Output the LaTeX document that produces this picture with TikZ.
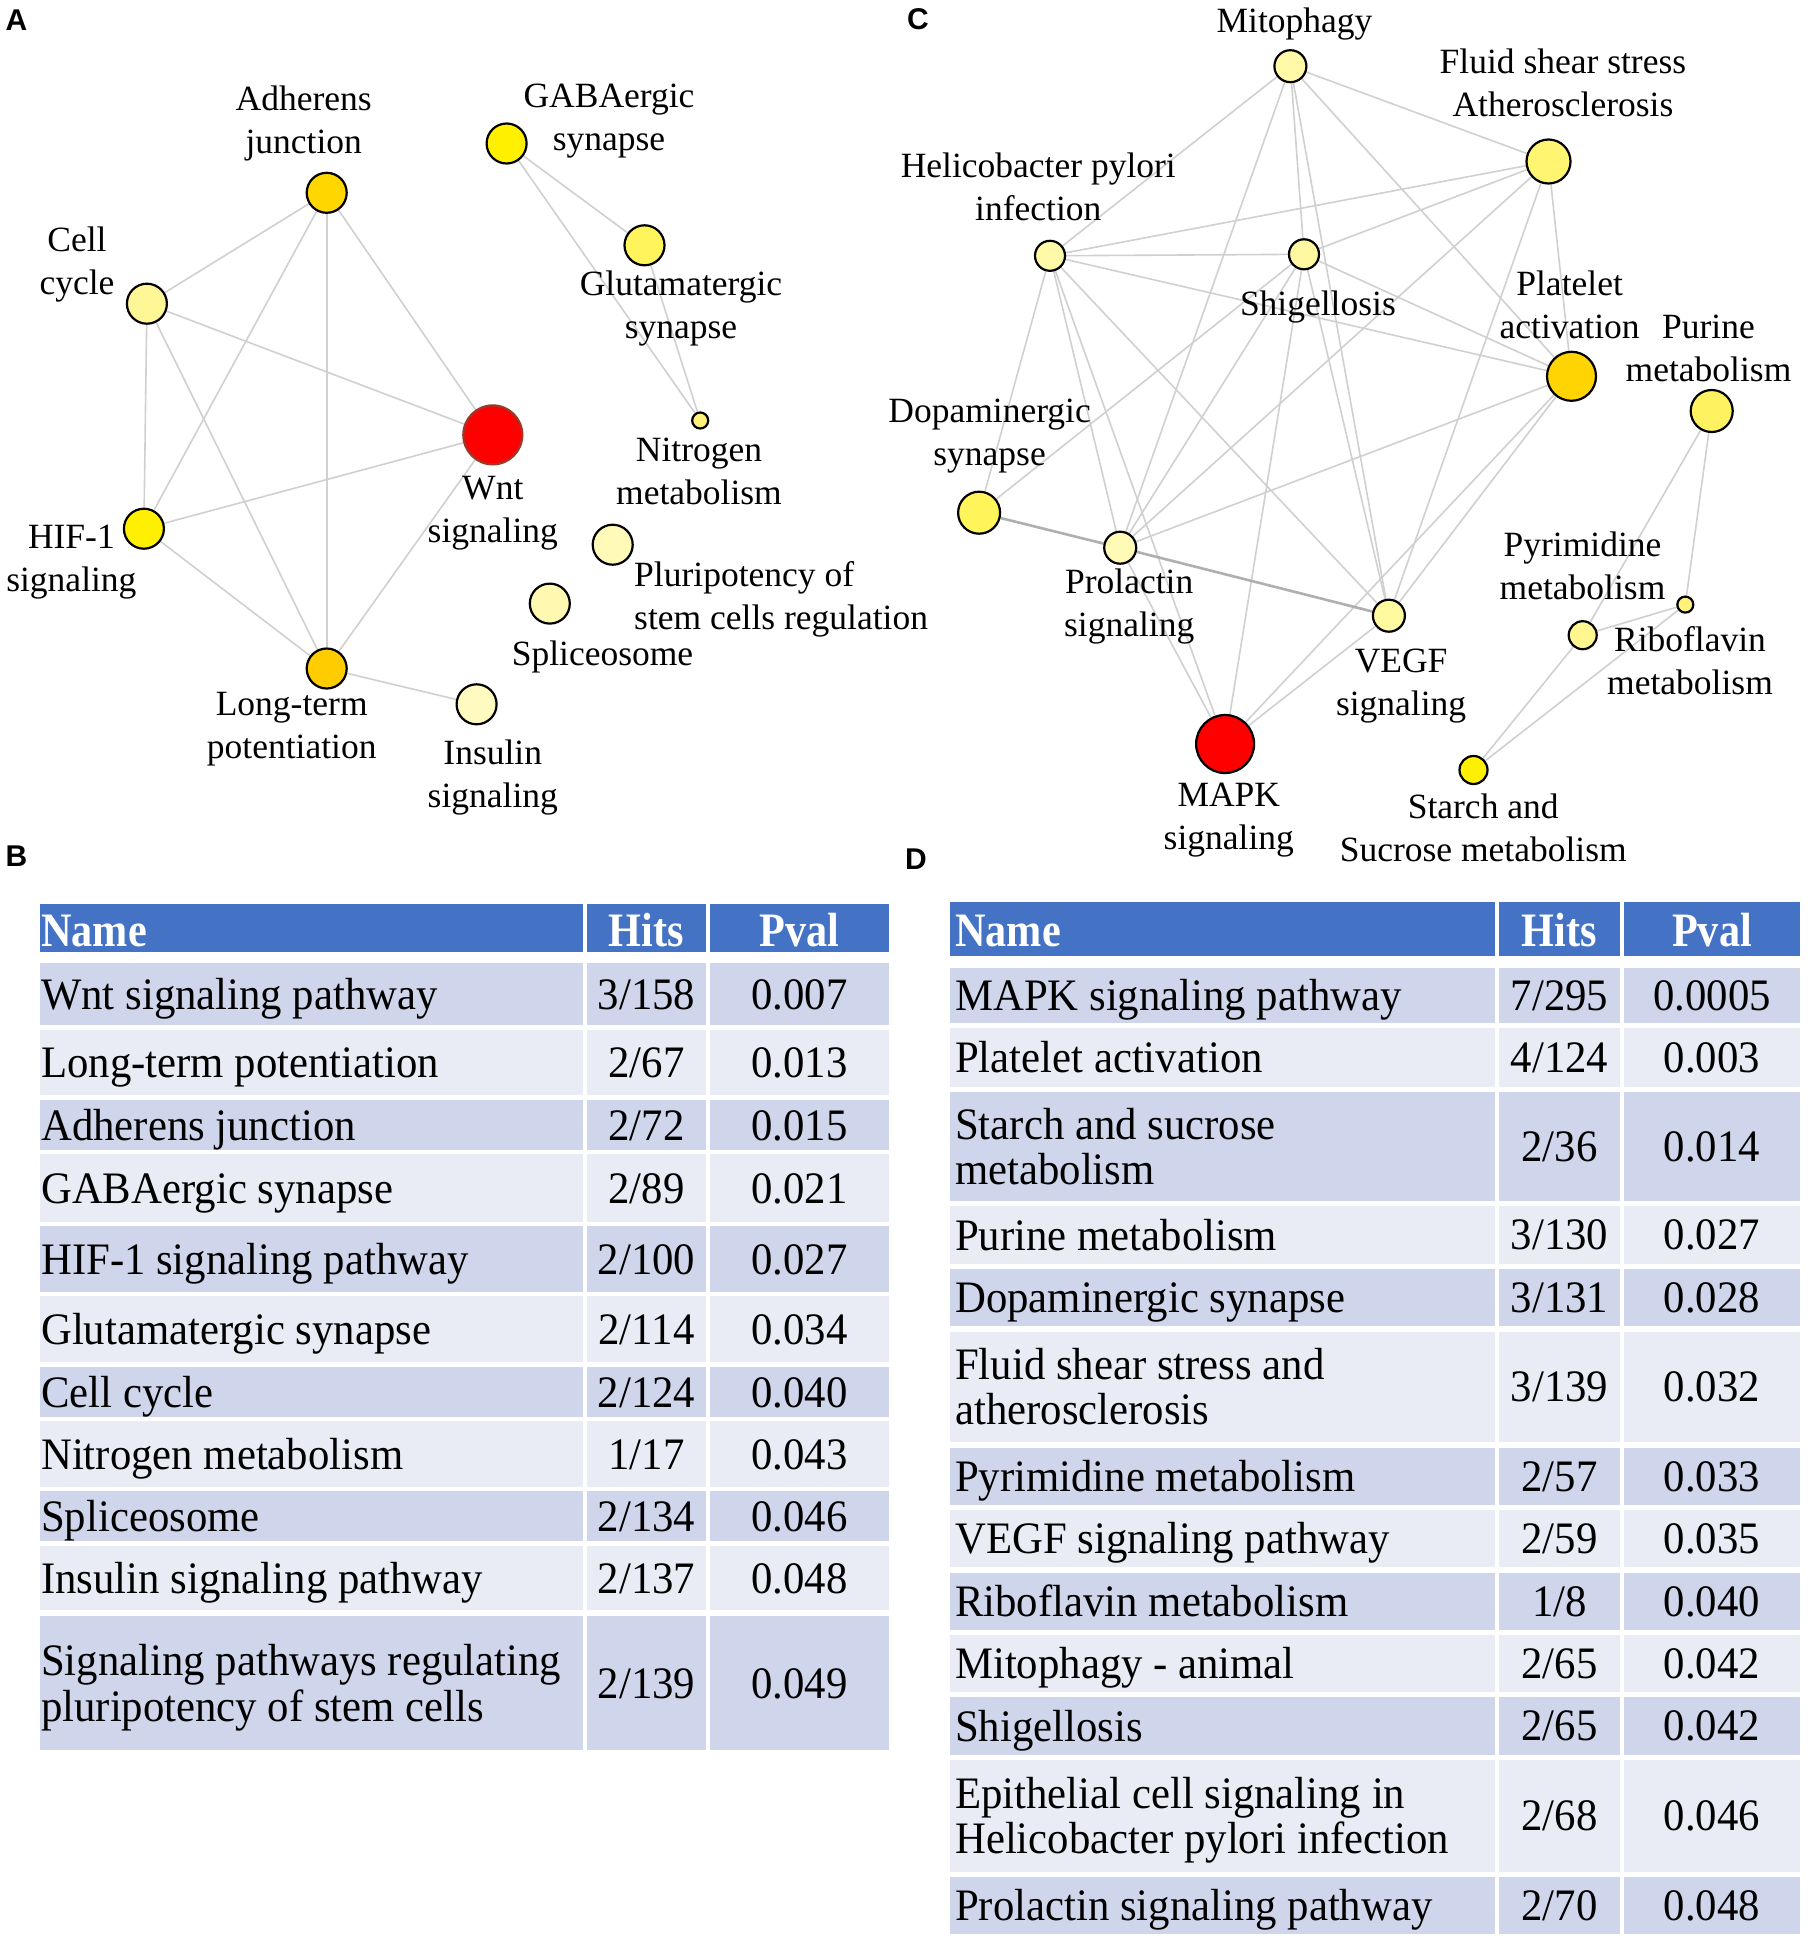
\documentclass[tikz,border=0pt]{standalone}
\usepackage{fontspec}
\setmainfont{Liberation Serif}
\newfontfamily\labsans{Liberation Sans}
\newfontfamily\tabfont[FakeStretch=0.95]{Liberation Serif}
\newfontfamily\hdrfont[FakeStretch=0.88]{Liberation Serif}
\usetikzlibrary{backgrounds}
\definecolor{hdr}{HTML}{4472C4}
\definecolor{rowdk}{HTML}{CFD5EA}
\definecolor{rowlt}{HTML}{E9EBF5}
\definecolor{edgegray}{HTML}{D0D0D0}
\definecolor{edgedark}{HTML}{AFAFAF}
\definecolor{wntborder}{HTML}{9B3A2B}
\newcommand\rowB[6]{%
  \fill[#3] (40,#1) rectangle (583,#2);
  \fill[#3] (587,#1) rectangle (706,#2);
  \fill[#3] (710,#1) rectangle (889,#2);
  \node[celltxtB,anchor=west,align=left] (bn#1) at (41,{(#1+#2)/2+6}) {\strut #4};
  \node[celltxtB] (bh#1) at (646.5,{(#1+#2)/2+6}) {\strut #5};
  \node[celltxtB] (bp#1) at (799.5,{(#1+#2)/2+6}) {\strut #6};
}
\newcommand\rowD[6]{%
  \fill[#3] (950,#1) rectangle (1495,#2);
  \fill[#3] (1499,#1) rectangle (1620,#2);
  \fill[#3] (1624,#1) rectangle (1800,#2);
  \node[celltxtD,anchor=west,align=left] (dn#1) at (955,{(#1+#2)/2+6}) {\strut #4};
  \node[celltxtD] (dh#1) at (1559.5,{(#1+#2)/2+6}) {\strut #5};
  \node[celltxtD] (dp#1) at (1712,{(#1+#2)/2+6}) {\strut #6};
}
\begin{document}
\begin{tikzpicture}[x=1pt,y=-1pt,
  nd/.style={circle,draw=black,line width=2.2pt,inner sep=0pt,minimum size=#1},
  edge/.style={draw=edgegray,line width=1.6pt},
  edgethick/.style={draw=edgedark,line width=2.6pt},
  lab/.style={font=\fontsize{35.5}{43}\selectfont,align=center,inner sep=0pt},
  panel/.style={font=\labsans\bfseries\fontsize{30}{30}\selectfont,inner sep=0pt},
  celltxtB/.style={font=\tabfont\fontsize{45}{46}\selectfont,inner sep=0pt},
  celltxtD/.style={font=\tabfont\fontsize{45}{43}\selectfont,inner sep=0pt},
  hdrtxt/.style={font=\hdrfont\bfseries\fontsize{48}{48}\selectfont,text=white,inner sep=0pt,anchor=base}]
\useasboundingbox (0,0) rectangle (1809,1945);

% panel labels
\node[panel] (pA) at (16.5,20) {A};
\node[panel] (pB) at (16.5,856) {B};
\node[panel] (pC) at (918,19.6) {C};
\node[panel] (pD) at (916,859) {D};

% ---------- Panel A network ----------
\node[nd=40,fill={rgb,255:red,255;green,214;blue,0}] (adh) at (326.7,192.8) {};
\node[nd=40,fill={rgb,255:red,255;green,240;blue,0}] (gaba) at (506.6,143.5) {};
\node[nd=40,fill={rgb,255:red,255;green,246;blue,150}] (cell) at (146.9,303.7) {};
\node[nd=40,fill={rgb,255:red,255;green,244;blue,92}] (glu) at (644.5,245.3) {};
\node[nd=59,fill=red,draw=wntborder] (wnt) at (492.8,434.9) {};
\node[nd=16,fill={rgb,255:red,255;green,242;blue,122}] (nit) at (700.2,420.5) {};
\node[nd=40,fill={rgb,255:red,255;green,240;blue,0}] (hif) at (143.9,528.7) {};
\node[nd=40,fill={rgb,255:red,255;green,250;blue,184}] (plu) at (612.7,544.7) {};
\node[nd=40,fill={rgb,255:red,255;green,248;blue,176}] (spl) at (549.8,603.6) {};
\node[nd=40,fill={rgb,255:red,255;green,204;blue,0}] (ltp) at (326.7,668.5) {};
\node[nd=40,fill={rgb,255:red,255;green,251;blue,192}] (ins) at (476.6,704.3) {};

\node[lab] (l-adh) at (303.7,123.7) {Adherens\\junction};
\node[lab] (l-gaba) at (609,121) {GABAergic\\synapse};
\node[lab] (l-cell) at (77,264.6) {Cell\\cycle};
\node[lab] (l-glu) at (681,309) {Glutamatergic\\synapse};
\node[lab] (l-wnt) at (492.8,513) {Wnt\\signaling};
\node[lab] (l-nit) at (699,471) {Nitrogen\\metabolism};
\node[lab] (l-hif) at (71.4,562.4) {HIF-1\\signaling};
\node[lab,align=left,anchor=west] (l-plu) at (634,599) {Pluripotency of\\stem cells regulation};
\node[lab] (l-spl) at (602.5,657.2) {Spliceosome};
\node[lab] (l-ltp) at (291.7,729.5) {Long-term\\potentiation};
\node[lab] (l-ins) at (492.8,777.4) {Insulin\\signaling};

% ---------- Panel C network ----------
\node[nd=32,fill={rgb,255:red,255;green,249;blue,168}] (mit) at (1290.4,66.2) {};
\node[nd=44,fill={rgb,255:red,255;green,245;blue,112}] (flu) at (1548.5,161.5) {};
\node[nd=30,fill={rgb,255:red,255;green,249;blue,168}] (hel) at (1050,255.8) {};
\node[nd=30,fill={rgb,255:red,255;green,248;blue,160}] (shi) at (1304,254.3) {};
\node[nd=49,fill={rgb,255:red,255;green,212;blue,0}] (pla) at (1571.5,376.3) {};
\node[nd=42,fill={rgb,255:red,255;green,242;blue,96}] (pur) at (1711.7,411) {};
\node[nd=42,fill={rgb,255:red,255;green,244;blue,90}] (dop) at (979.1,512.7) {};
\node[nd=32,fill={rgb,255:red,255;green,250;blue,181}] (pro) at (1120.2,547.7) {};
\node[nd=32,fill={rgb,255:red,255;green,249;blue,160}] (veg) at (1388.9,615.7) {};
\node[nd=58,fill=red] (map) at (1225.1,744) {};
\node[nd=28,fill={rgb,255:red,255;green,240;blue,0}] (sta) at (1473.5,770) {};
\node[nd=28,fill={rgb,255:red,255;green,246;blue,144}] (pyr) at (1582.7,635.2) {};
\node[nd=16,fill={rgb,255:red,255;green,242;blue,122}] (rib) at (1685.3,604.6) {};

\node[lab] (l-mit) at (1294.5,23.6) {Mitophagy};
\node[lab] (l-flu) at (1562.9,83.3) {Fluid shear stress\\Atherosclerosis};
\node[lab] (l-hel) at (1038.3,187.2) {Helicobacter pylori\\infection};
\node[lab] (l-shi) at (1317.9,307.5) {Shigellosis};
\node[lab] (l-pla) at (1569.6,305) {Platelet\\activation};
\node[lab] (l-pur) at (1708.5,348.5) {Purine\\metabolism};
\node[lab] (l-dop) at (989.6,436.3) {Dopaminergic\\synapse};
\node[lab] (l-pro) at (1129.2,606.4) {Prolactin\\signaling};
\node[lab] (l-veg) at (1401.1,686) {VEGF\\signaling};
\node[lab] (l-pyr) at (1582.5,566.2) {Pyrimidine\\metabolism};
\node[lab] (l-rib) at (1690,660.8) {Riboflavin\\metabolism};
\node[lab] (l-map) at (1228.8,820) {MAPK\\signaling};
\node[lab] (l-sta) at (1483.2,828.3) {Starch and\\Sucrose metabolism};

\begin{pgfonlayer}{background}
  \fill[white] (0,0) rectangle (1809,1945);
  \foreach \a/\b in {adh/cell,adh/wnt,adh/hif,adh/ltp,cell/wnt,cell/hif,cell/ltp,hif/wnt,hif/ltp,ltp/wnt,ltp/ins,gaba/glu,gaba/nit,glu/nit}
    \draw[edge] (\a) -- (\b);
  \foreach \a/\b in {mit/hel,mit/flu,mit/shi,mit/pla,mit/veg,mit/pro,
      hel/flu,hel/shi,hel/pla,hel/dop,hel/pro,hel/map,hel/veg,
      shi/flu,shi/pla,shi/pro,shi/map,shi/veg,shi/dop,
      flu/pla,flu/veg,flu/pro,
      pla/pro,pla/veg,pla/map,
      pro/map,veg/map,
      pur/pyr,pur/rib,pyr/rib,sta/pyr,sta/rib}
    \draw[edge] (\a) -- (\b);
  \draw[edgethick] (dop) -- (pro);
  \draw[edgethick] (pro) -- (veg);
\end{pgfonlayer}

% ---------- Table B ----------
\fill[hdr] (40,904) rectangle (583,952);
\fill[hdr] (587,904) rectangle (706,952);
\fill[hdr] (710,904) rectangle (889,952);
\node[hdrtxt,anchor=base west] (bhn) at (41,946) {Name};
\node[hdrtxt] (bhh) at (646.5,946) {Hits};
\node[hdrtxt] (bhp) at (799.5,946) {Pval};
\rowB{963}{1025}{rowdk}{Wnt signaling pathway}{3/158}{0.007}
\rowB{1030}{1095}{rowlt}{Long-term potentiation}{2/67}{0.013}
\rowB{1100}{1150}{rowdk}{Adherens junction}{2/72}{0.015}
\rowB{1154}{1222}{rowlt}{GABAergic synapse}{2/89}{0.021}
\rowB{1226}{1292}{rowdk}{HIF-1 signaling pathway}{2/100}{0.027}
\rowB{1296}{1362}{rowlt}{Glutamatergic synapse}{2/114}{0.034}
\rowB{1367}{1417}{rowdk}{Cell cycle}{2/124}{0.040}
\rowB{1421}{1487}{rowlt}{Nitrogen metabolism}{1/17}{0.043}
\rowB{1491}{1541}{rowdk}{Spliceosome}{2/134}{0.046}
\rowB{1546}{1610}{rowlt}{Insulin signaling pathway}{2/137}{0.048}
\rowB{1616}{1750}{rowdk}{Signaling pathways regulating\\\strut pluripotency of stem cells}{2/139}{0.049}

% ---------- Table D ----------
\fill[hdr] (950,902) rectangle (1495,956);
\fill[hdr] (1499,902) rectangle (1620,956);
\fill[hdr] (1624,902) rectangle (1800,956);
\node[hdrtxt,anchor=base west] (dhn) at (955,946) {Name};
\node[hdrtxt] (dhh) at (1559.5,946) {Hits};
\node[hdrtxt] (dhp) at (1712,946) {Pval};
\rowD{968}{1023}{rowdk}{MAPK signaling pathway}{7/295}{0.0005}
\rowD{1028}{1087}{rowlt}{Platelet activation}{4/124}{0.003}
\rowD{1092}{1201}{rowdk}{Starch and sucrose\\\strut metabolism}{2/36}{0.014}
\rowD{1206}{1264}{rowlt}{Purine metabolism}{3/130}{0.027}
\rowD{1269}{1326}{rowdk}{Dopaminergic synapse}{3/131}{0.028}
\rowD{1332}{1442}{rowlt}{Fluid shear stress and\\\strut atherosclerosis}{3/139}{0.032}
\rowD{1448}{1505}{rowdk}{Pyrimidine metabolism}{2/57}{0.033}
\rowD{1510}{1567}{rowlt}{VEGF signaling pathway}{2/59}{0.035}
\rowD{1573}{1630}{rowdk}{Riboflavin metabolism}{1/8}{0.040}
\rowD{1635}{1692}{rowlt}{Mitophagy - animal}{2/65}{0.042}
\rowD{1697}{1755}{rowdk}{Shigellosis}{2/65}{0.042}
\rowD{1760}{1872}{rowlt}{Epithelial cell signaling in\\\strut Helicobacter pylori infection}{2/68}{0.046}
\rowD{1877}{1934}{rowdk}{Prolactin signaling pathway}{2/70}{0.048}
\end{tikzpicture}
\end{document}
